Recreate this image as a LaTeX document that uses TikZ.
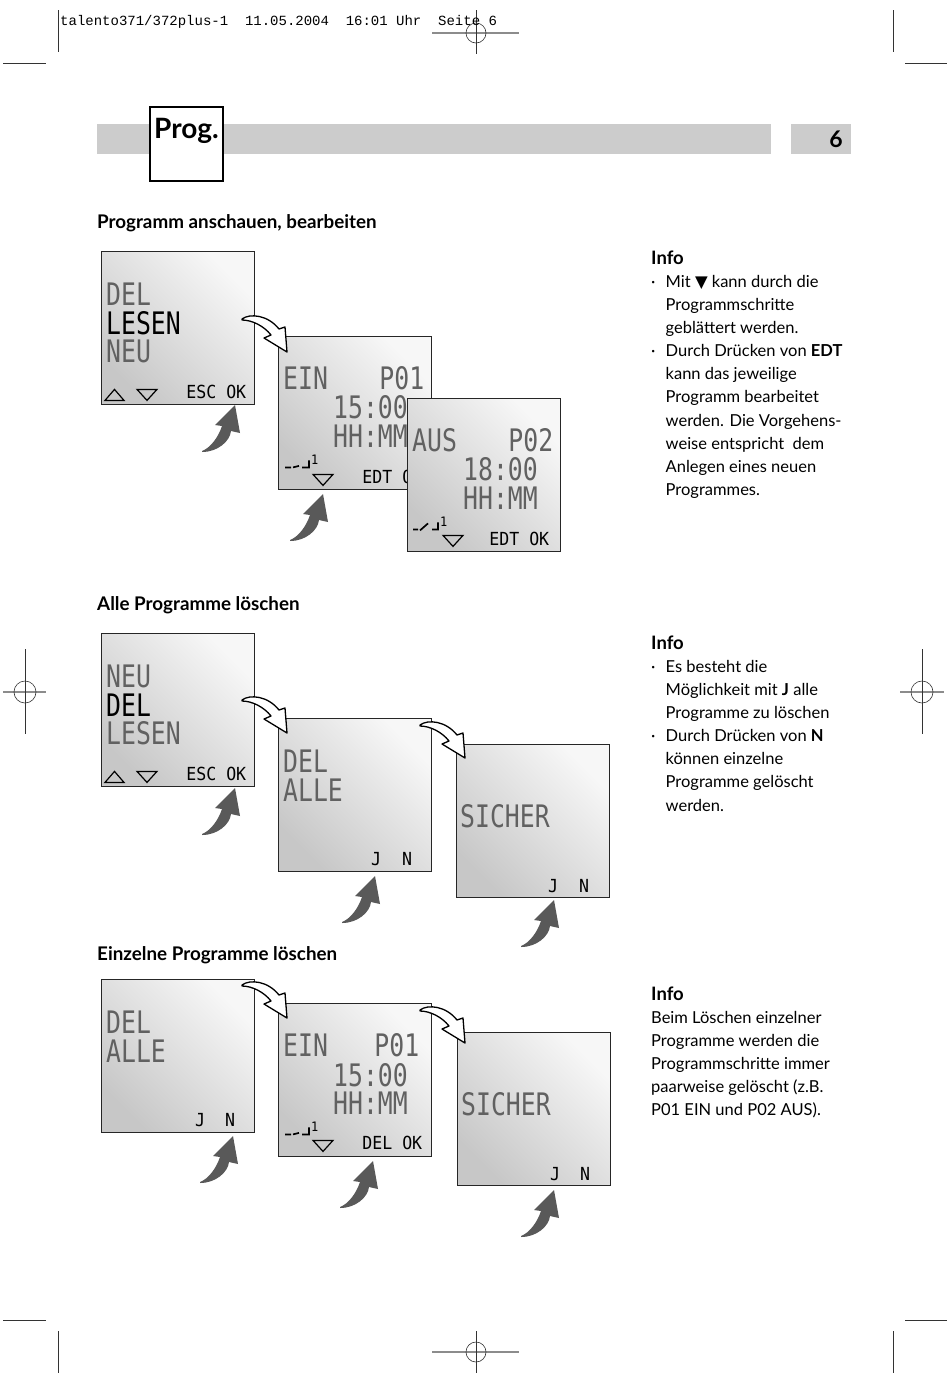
\documentclass[tikz,border=0pt]{standalone}
\usepackage{fontspec}
\setmainfont{Lato}
\setmonofont{Liberation Mono}
\newfontfamily\lcdfont[FakeStretch=0.8]{DejaVu Sans Mono}
\newfontfamily\lcdkeyfont[FakeStretch=0.92]{DejaVu Sans Mono}
\newfontfamily\symfont{DejaVu Sans}
\usetikzlibrary{positioning}
\newcommand\bul{\makebox[14.5pt][l]{·}}
\newcommand\ind{\hspace*{14.5pt}}
\newcommand\infohead{{\bfseries\fontsize{18.5}{23.1}\selectfont Info}}
\tikzset{
  lcd/.style ={rectangle, draw=black!85, line width=1.4pt, minimum width=153pt, minimum height=153pt,
               anchor=north west, inner sep=0pt, top color=black!22, bottom color=black!3, shading angle=135},
  seg/.style ={anchor=base west, inner sep=0pt, text=black!62, font=\lcdfont\fontsize{31}{31}\selectfont},
  segr/.style={seg, anchor=base east},
  hot/.style ={seg, text=black},
  key/.style ={anchor=base east, inner sep=0pt, font=\lcdkeyfont\fontsize{18}{18}\selectfont},
  head/.style={anchor=base west, inner sep=0pt, font=\bfseries\fontsize{18.8}{22}\selectfont},
  info/.style={anchor=north west, inner sep=0pt, align=left, font=\fontsize{16.5}{23.1}\selectfont},
  crop/.style={black!80, line width=0.6pt},
  reg/.style ={black!45, line width=1.6pt},
  pics/hop/.style={code={
    \draw[black, line width=1.3pt, fill=white, line join=round]
      (0,0) .. controls (8,-6) and (26,-4) .. (37,10) -- (43,8) -- (45,33) -- (22,19) -- (29,16)
      .. controls (22,7) and (10,1) .. (0,1) -- cycle;
  }},
  pics/tap/.style={code={
    \fill[black!65]
      (0,0) .. controls (8,-3) and (16,-13) .. (20,-25) -- (13,-26) -- (33,-46) -- (38,-18) -- (29,-20)
      .. controls (28,-10) and (16,1) .. (0,1) -- cycle;
  }},
  pics/upkey/.style={code={\draw[black, line width=1.2pt] (0,0) -- (19,0) -- (9.5,-11) -- cycle;}},
  pics/dnkey/.style={code={\draw[black, line width=1.2pt] (0,0) -- (20,0) -- (10,11) -- cycle;}},
  pics/swoff/.style={code={
    \draw[black, line width=1.7pt] (0,0) -- (6,0) (8,0) -- (14,-1.5) (17,0) -- (24,0) -- (24,-7);
    \node[anchor=base west, inner sep=0pt, font=\lcdkeyfont\fontsize{13}{13}\selectfont] at (26,-3) {1};
  }},
  pics/swon/.style={code={
    \draw[black, line width=1.7pt] (0,0) -- (5,0) (7,1) -- (15,-6) (19,0) -- (25,0) -- (25,-7);
    \node[anchor=base west, inner sep=0pt, font=\lcdkeyfont\fontsize{13}{13}\selectfont] at (27,-3) {1};
  }},
}
\begin{document}
\begin{tikzpicture}[x=1pt, y=-1pt]
  \useasboundingbox (0,0) rectangle (950,1385);
  \fill[white] (0,0) rectangle (950,1385);

  % crop and registration marks
  \draw[crop] (58,10) -- (58,52);   \draw[crop] (3,63) -- (46,63);
  \draw[crop] (893,10) -- (893,52); \draw[crop] (905,63) -- (947,63);
  \draw[crop] (58,1331) -- (58,1373);   \draw[crop] (3,1320) -- (46,1320);
  \draw[crop] (893,1331) -- (893,1373); \draw[crop] (905,1320) -- (947,1320);
  \draw[reg] (432,33) -- (519,33);   \draw[crop] (476,10) -- (476,54);   \draw[crop] (476,33) circle[radius=10pt];
  \draw[reg] (432,1352) -- (519,1352); \draw[crop] (476,1331) -- (476,1373); \draw[crop] (476,1352) circle[radius=10pt];
  \draw[reg] (3,692) -- (46,692);    \draw[crop] (25,649) -- (25,734);   \draw[crop] (25,692) circle[radius=11pt];
  \draw[reg] (900,692) -- (944,692); \draw[crop] (922,649) -- (922,734); \draw[crop] (922,692) circle[radius=11pt];

  \node[anchor=base west, inner sep=0pt, font=\ttfamily\fontsize{14}{14}\selectfont] (slug) at (60,25)
    {talento371/372plus-1~~11.05.2004~~16:01 Uhr~~Seite 6};

  % header bar
  \fill[black!20] (97,124) rectangle (771,154);
  \fill[black!20] (791,124) rectangle (851,154);
  \draw[black, line width=2.2pt, fill=white] (150,107) rectangle (223,181);
  \node[anchor=base west, inner sep=0pt, font=\bfseries\fontsize{28}{28}\selectfont] (prog) at (154,138) {Prog.};
  \node[anchor=base east, inner sep=0pt, font=\bfseries\fontsize{23}{23}\selectfont] (page) at (843,147) {6};

  % Programm anschauen, bearbeiten
  \node[head] (t1) at (97,228) {Programm anschauen, bearbeiten};
  \node[lcd] (s1a) at (101,251) {};
  \node[seg] at ([shift={(5,54)}]s1a.north west) {DEL};
  \node[hot] at ([shift={(5,83)}]s1a.north west) {LESEN};
  \node[seg] at ([shift={(5,111)}]s1a.north west) {NEU};
  \pic at ([shift={(4,-5)}]s1a.south west) {upkey};
  \pic at ([shift={(36,-16)}]s1a.south west) {dnkey};
  \node[key] at ([shift={(-9,-7)}]s1a.south east) {ESC OK};

  \node[lcd] (s1b) at (278,336) {};
  \node[seg] at ([shift={(5,53)}]s1b.north west) {EIN};
  \node[segr] at ([shift={(-8,53)}]s1b.north east) {P01};
  \node[seg] at ([shift={(55,82)}]s1b.north west) {15:00};
  \node[seg] at ([shift={(55,111)}]s1b.north west) {HH:MM};
  \pic at ([shift={(7,-23)}]s1b.south west) {swoff};
  \pic at ([shift={(35,-16)}]s1b.south west) {dnkey};
  \node[key] at ([shift={(-10,-7)}]s1b.south east) {EDT OK};

  \node[lcd] (s1c) at (407,398) {};
  \node[seg] at ([shift={(5,53)}]s1c.north west) {AUS};
  \node[segr] at ([shift={(-8,53)}]s1c.north east) {P02};
  \node[seg] at ([shift={(56,82)}]s1c.north west) {18:00};
  \node[seg] at ([shift={(56,111)}]s1c.north west) {HH:MM};
  \pic at ([shift={(6,-23)}]s1c.south west) {swon};
  \pic at ([shift={(36,-17)}]s1c.south west) {dnkey};
  \node[key] at ([shift={(-12,-7)}]s1c.south east) {EDT OK};

  \node[info] (i1) at (651,248) {\strut\infohead\\
    \bul Mit {\symfont ▼} kann durch die\\
    \ind Programmschritte\\
    \ind geblättert werden.\\
    \bul Durch Drücken von \textbf{EDT}\\
    \ind kann das jeweilige\\
    \ind Programm bearbeitet\\
    \ind werden. Die Vorgehens-\\
    \ind weise entspricht\ \ dem\\
    \ind Anlegen eines neuen\\
    \ind Programmes.};

  % Alle Programme loeschen
  \node[head] (t2) at (97,610) {Alle Programme löschen};
  \node[lcd] (s2a) at (101,633) {};
  \node[seg] at ([shift={(5,54)}]s2a.north west) {NEU};
  \node[hot] at ([shift={(5,83)}]s2a.north west) {DEL};
  \node[seg] at ([shift={(5,111)}]s2a.north west) {LESEN};
  \pic at ([shift={(4,-5)}]s2a.south west) {upkey};
  \pic at ([shift={(36,-16)}]s2a.south west) {dnkey};
  \node[key] at ([shift={(-9,-7)}]s2a.south east) {ESC OK};

  \node[lcd] (s2b) at (278,718) {};
  \node[seg] at ([shift={(5,54)}]s2b.north west) {DEL};
  \node[seg] at ([shift={(5,83)}]s2b.north west) {ALLE};
  \node[key] at ([shift={(-51,-7)}]s2b.south east) {J};
  \node[key] at ([shift={(-20,-7)}]s2b.south east) {N};

  \node[lcd] (s2c) at (456,744) {};
  \node[seg] at ([shift={(4,83)}]s2c.north west) {SICHER};
  \node[key] at ([shift={(-52,-6)}]s2c.south east) {J};
  \node[key] at ([shift={(-21,-6)}]s2c.south east) {N};

  \node[info] (i2) at (651,633) {\strut\infohead\\
    \bul Es besteht die\\
    \ind Möglichkeit mit \textbf{J} alle\\
    \ind Programme zu löschen\\
    \bul Durch Drücken von \textbf{N}\\
    \ind können einzelne\\
    \ind Programme gelöscht\\
    \ind werden.};

  % Einzelne Programme loeschen
  \node[head] (t3) at (97,960) {Einzelne Programme löschen};
  \node[lcd] (s3a) at (101,979) {};
  \node[seg] at ([shift={(5,54)}]s3a.north west) {DEL};
  \node[seg] at ([shift={(5,83)}]s3a.north west) {ALLE};
  \node[key] at ([shift={(-50,-7)}]s3a.south east) {J};
  \node[key] at ([shift={(-20,-7)}]s3a.south east) {N};

  \node[lcd] (s3b) at (278,1003) {};
  \node[seg] at ([shift={(5,53)}]s3b.north west) {EIN};
  \node[segr] at ([shift={(-13,53)}]s3b.north east) {P01};
  \node[seg] at ([shift={(55,83)}]s3b.north west) {15:00};
  \node[seg] at ([shift={(55,111)}]s3b.north west) {HH:MM};
  \pic at ([shift={(7,-23)}]s3b.south west) {swoff};
  \pic at ([shift={(35,-17)}]s3b.south west) {dnkey};
  \node[key] at ([shift={(-10,-8)}]s3b.south east) {DEL OK};

  \node[lcd] (s3c) at (457,1032) {};
  \node[seg] at ([shift={(4,83)}]s3c.north west) {SICHER};
  \node[key] at ([shift={(-51,-6)}]s3c.south east) {J};
  \node[key] at ([shift={(-21,-6)}]s3c.south east) {N};

  \node[info] (i3) at (651,984) {\strut\infohead\\
    Beim Löschen einzelner\\
    Programme werden die\\
    Programmschritte immer\\
    paarweise gelöscht (z.B.\\
    P01 EIN und P02 AUS).};

  % step arrows
  \pic at (242,319) {hop};
  \pic at (242,700) {hop};
  \pic at (420,725) {hop};
  \pic at (242,985) {hop};
  \pic at (420,1010) {hop};

  % key press arrows
  \pic at (202,451) {tap};
  \pic at (290,540) {tap};
  \pic at (202,834) {tap};
  \pic at (342,922) {tap};
  \pic at (521,946) {tap};
  \pic at (200,1182) {tap};
  \pic at (340,1207) {tap};
  \pic at (521,1236) {tap};
\end{tikzpicture}
\end{document}
